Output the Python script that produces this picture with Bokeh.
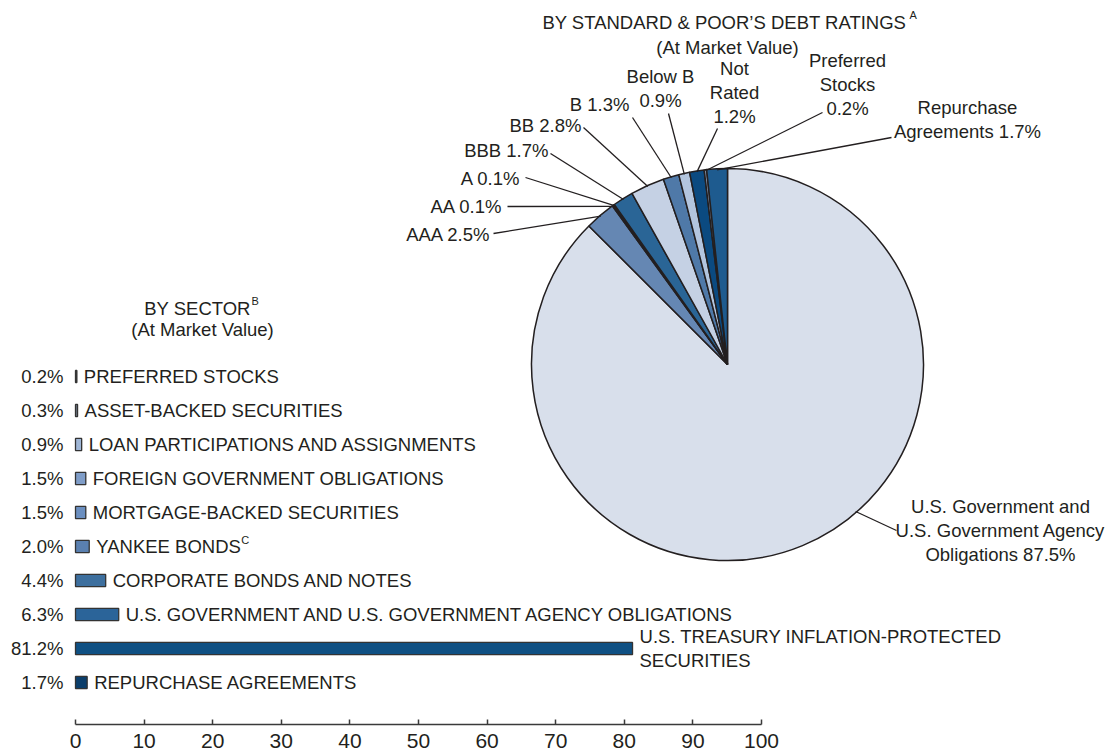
import math
from bokeh.plotting import figure
from bokeh.models import Range1d, LinearAxis, FixedTicker, ColumnDataSource
from bokeh.core.properties import value
from bokeh.embed import file_html
from bokeh.resources import INLINE

# ---------------- data ----------------
# Pie: S&P debt ratings, clockwise from 12 o'clock
pie_names = ["U.S. Government and\nU.S. Government Agency\nObligations", "AAA", "AA", "A", "BBB", "BB", "B",
             "Below B", "Not\nRated", "Preferred\nStocks", "Repurchase\nAgreements"]
pie_values = [87.5, 2.5, 0.1, 0.1, 1.7, 2.8, 1.3, 0.9, 1.2, 0.2, 1.7]
pie_colors = ["#d8dfeb", "#6587b3", "#a7bad6", "#5b7fae", "#2a6596", "#c5d1e4", "#4f79a8",
              "#b3c5de", "#0b4a80", "#8a9bb5", "#1e5b8f"]

# Bars: by sector
sector_names = ["PREFERRED STOCKS", "ASSET-BACKED SECURITIES", "LOAN PARTICIPATIONS AND ASSIGNMENTS",
                "FOREIGN GOVERNMENT OBLIGATIONS", "MORTGAGE-BACKED SECURITIES", "YANKEE BONDS",
                "CORPORATE BONDS AND NOTES", "U.S. GOVERNMENT AND U.S. GOVERNMENT AGENCY OBLIGATIONS",
                "U.S. TREASURY INFLATION-PROTECTED\nSECURITIES", "REPURCHASE AGREEMENTS"]
sector_values = [0.2, 0.3, 0.9, 1.5, 1.5, 2.0, 4.4, 6.3, 81.2, 1.7]
sector_colors = ["#3a3a3a", "#6d7684", "#9fb6d6", "#7f9dc8", "#6b8fc0", "#5a80b0", "#3d6f9e",
                 "#2b6499", "#0f5083", "#0b3e6b"]
axis_ticks = [0, 10, 20, 30, 40, 50, 60, 70, 80, 90, 100]

# ---------------- layout ----------------
W, H = 1106, 754
BOTTOM = 30          # height of the axis panel under the frame
FONT = value("Liberation Sans")
FS = "18.5px"
TXT = "#231f20"


def Y(img_y):
    return H - img_y


PX = 6.86  # pixels per percent on bar axis
X0 = 75    # x of 0 on bar axis

p = figure(width=W, height=H, x_range=Range1d(0, W), y_range=Range1d(BOTTOM, H),
           output_backend="svg", toolbar_location=None, x_axis_type=None, y_axis_type=None,
           min_border_left=0, min_border_right=0, min_border_top=0, min_border_bottom=BOTTOM,
           outline_line_color=None, background_fill_color="white", border_fill_color="white")
p.extra_x_ranges = {"pct": Range1d((0 - X0) / PX, (W - X0) / PX)}
ROW0, ROWSTEP = Y(376), 34
p.extra_y_ranges = {"rows": Range1d((ROW0 - BOTTOM) / ROWSTEP, (ROW0 - H) / ROWSTEP)}

ax = LinearAxis(x_range_name="pct", ticker=FixedTicker(ticks=axis_ticks), bounds=(0, 100),
                major_tick_in=5, major_tick_out=0, minor_tick_line_color=None,
                axis_line_color="#3a3a3a", axis_line_width=1.5,
                major_tick_line_color="#3a3a3a", major_tick_line_width=1.5,
                major_label_text_font="Liberation Sans", major_label_text_font_size="21px",
                major_label_text_color=TXT, major_label_standoff=9)
p.add_layout(ax, "below")

# ---------------- bars ----------------
bsrc = ColumnDataSource(dict(idx=list(range(len(sector_values))), val=sector_values,
                             color=sector_colors, name=sector_names,
                             pct=["%.1f%%" % v for v in sector_values]))
p.hbar(y="idx", left=0, right="val", height=0.36, fill_color="color", line_color="#333333",
       line_width=1.3, source=bsrc, x_range_name="pct", y_range_name="rows")
p.text(x=0, y="idx", text="pct", x_offset=-12, text_align="right", text_baseline="middle",
       text_font=FONT, text_font_size=FS, text_color=TXT, source=bsrc,
       x_range_name="pct", y_range_name="rows")
p.text(x="val", y="idx", text="name", x_offset=7, text_align="left", text_baseline="middle",
       text_font=FONT, text_font_size=FS, text_color=TXT, text_line_height=1.12,
       source=bsrc, x_range_name="pct", y_range_name="rows")
yi = sector_names.index("YANKEE BONDS")
p.text(x=[sector_values[yi]], y=[yi], text=["C"], x_offset=7 + 145, y_offset=-7,
       text_align="left", text_baseline="middle", text_font=FONT, text_font_size="11px",
       text_color=TXT, x_range_name="pct", y_range_name="rows")

# bar section title
p.text(x=[197], y=[Y(308)], text=["BY SECTOR"], text_align="center", text_baseline="middle",
       text_font=FONT, text_font_size=FS, text_color=TXT)
p.text(x=[251], y=[Y(300)], text=["B"], text_align="left", text_baseline="middle",
       text_font=FONT, text_font_size="11px", text_color=TXT)
p.text(x=[202], y=[Y(329)], text=["(At Market Value)"], text_align="center", text_baseline="middle",
       text_font=FONT, text_font_size=FS, text_color=TXT)

# ---------------- pie ----------------
CX, CY, R = 727, Y(364), 196
total = sum(pie_values)
starts, ends, spans = [], [], []
cum = 0.0
for v in pie_values:
    a0 = cum / total
    cum += v
    a1 = cum / total
    starts.append(math.pi / 2 - 2 * math.pi * a0)
    ends.append(math.pi / 2 - 2 * math.pi * a1)
    spans.append((a0, a1))
p.wedge(x=CX, y=CY, radius=R, start_angle=starts, end_angle=ends, direction="clock",
        fill_color=pie_colors, line_color=TXT, line_width=1.5)

# label layout: leader start, text anchor, alignment, position along slice
lead_start = [(896, 530), (493, 233), (507, 206), (525, 177), (550, 153), (583, 127), (632, 117),
              (668, 113), (717, 128), (822, 112), (891, 137)]
text_pos = [(1000, 530), (490, 234), (502, 206), (520, 178), (548, 150), (581, 125), (629, 104),
            (660, 88), (734, 92), (847, 84), (967, 119)]
text_align = ["center", "right", "right", "right", "right", "right", "right",
              "center", "center", "center", "center"]
lead_frac = [0.441, 0.5, 0.5, 0.5, 0.5, 0.5, 0.5, 0.5, 0.5, 0.5, 0.5]

x0s, y0s, x1s, y1s = [], [], [], []
for (a0, a1), (lx, ly), f in zip(spans, lead_start, lead_frac):
    th = 2 * math.pi * (a0 + f * (a1 - a0))
    x0s.append(lx)
    y0s.append(Y(ly))
    x1s.append(CX + (R - 1) * math.sin(th))
    y1s.append(CY + (R - 1) * math.cos(th))
p.segment(x0=x0s, y0=y0s, x1=x1s, y1=y1s, line_color=TXT, line_width=1.3)

labels = []
for n, v in zip(pie_names, pie_values):
    if n in ("Not\nRated", "Preferred\nStocks", "Below B"):
        labels.append("%s\n%.1f%%" % (n, v))
    else:
        labels.append("%s %.1f%%" % (n, v))
psrc = ColumnDataSource(dict(x=[t[0] for t in text_pos], y=[Y(t[1]) for t in text_pos],
                             text=labels, align=text_align))
p.text(x="x", y="y", text="text", text_align="align", text_baseline="middle",
       text_font=FONT, text_font_size=FS, text_color=TXT, text_line_height=1.12, source=psrc)

# pie title
p.text(x=[724], y=[Y(22)], text=["BY STANDARD & POOR\u2019S DEBT RATINGS"], text_align="center",
       text_baseline="middle", text_font=FONT, text_font_size=FS, text_color=TXT)
p.text(x=[909], y=[Y(14)], text=["A"], text_align="left", text_baseline="middle",
       text_font=FONT, text_font_size="11px", text_color=TXT)
p.text(x=[727], y=[Y(47)], text=["(At Market Value)"], text_align="center", text_baseline="middle",
       text_font=FONT, text_font_size=FS, text_color=TXT)

open("out.html", "w").write(file_html(p, INLINE))
